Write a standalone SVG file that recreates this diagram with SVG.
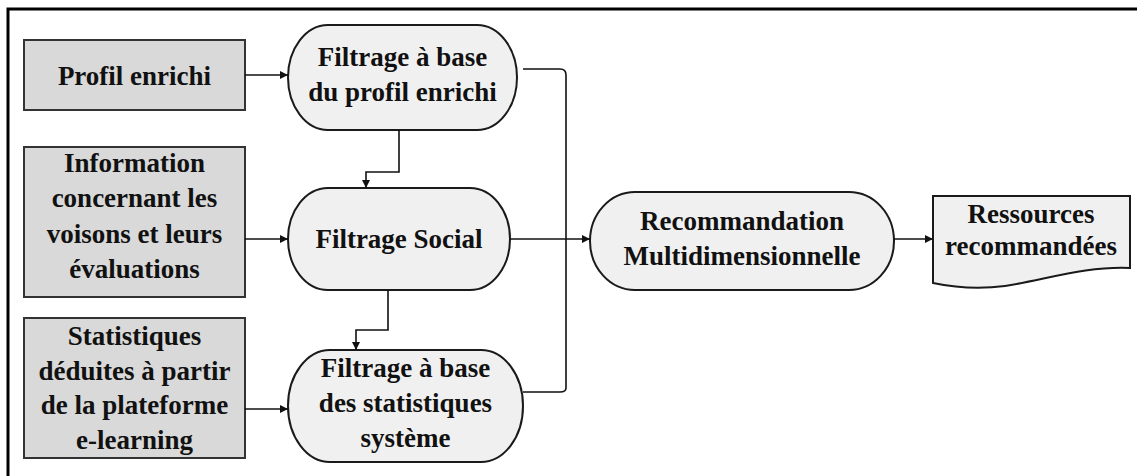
<svg xmlns="http://www.w3.org/2000/svg" width="1137" height="476" viewBox="0 0 1137 476">
<defs>
<marker id="ah" viewBox="0 0 10 10" refX="10" refY="5" markerWidth="8" markerHeight="8" markerUnits="userSpaceOnUse" orient="auto">
<path d="M0,0 L10,5 L0,10 Z" fill="#111"/>
</marker>
<style>
.src{fill:#d9d9d9;stroke:#333;stroke-width:2}
.proc{fill:#f0f0f0;stroke:#1a1a1a;stroke-width:2}
.t{font-family:"Liberation Serif","Times New Roman",serif;font-weight:bold;font-size:27px;fill:#111;text-anchor:middle}
.c{fill:none;stroke:#111;stroke-width:1.6}
</style>
</defs>
<rect width="1137" height="476" fill="#fff"/>
<path d="M8,476 V9 H1137" fill="none" stroke="#000" stroke-width="3"/>

<g id="profil">
<rect class="src" x="24" y="40" width="221" height="70"/>
<text class="t" x="134.5" y="85">Profil enrichi</text>
</g>
<g id="information">
<rect class="src" x="24" y="147" width="221" height="150"/>
<text class="t" x="134.5" y="172">Information</text>
<text class="t" x="134.5" y="207">concernant les</text>
<text class="t" x="134.5" y="243">voisons et leurs</text>
<text class="t" x="134.5" y="278">évaluations</text>
</g>
<g id="statistiques">
<rect class="src" x="24" y="318" width="221" height="140"/>
<text class="t" x="134.5" y="345">Statistiques</text>
<text class="t" x="134.5" y="380">déduites à partir</text>
<text class="t" x="134.5" y="414">de la plateforme</text>
<text class="t" x="134.5" y="449">e-learning</text>
</g>
<g id="filtrage-profil">
<rect class="proc" x="288" y="25" width="229" height="105" rx="40" ry="52.5"/>
<text class="t" x="402.5" y="66">Filtrage à base</text>
<text class="t" x="402.5" y="101">du profil enrichi</text>
</g>
<g id="filtrage-social">
<rect class="proc" x="288" y="188" width="222" height="102" rx="40" ry="51"/>
<text class="t" x="399" y="248">Filtrage Social</text>
</g>
<g id="filtrage-stats">
<rect class="proc" x="288" y="350" width="235" height="112" rx="42" ry="56"/>
<text class="t" x="405.5" y="377">Filtrage à base</text>
<text class="t" x="405.5" y="412">des statistiques</text>
<text class="t" x="405.5" y="447">système</text>
</g>
<g id="recommandation">
<rect class="proc" x="590" y="192" width="304" height="98" rx="45" ry="49"/>
<text class="t" x="742" y="230">Recommandation</text>
<text class="t" x="742" y="265">Multidimensionnelle</text>
</g>
<g id="ressources">
<path class="proc" d="M933,196 H1130 V268 C1085,266 1045,280 1005,286 C975,290 952,287 933,283 Z"/>
<text class="t" x="1031" y="223">Ressources</text>
<text class="t" x="1031" y="255">recommandées</text>
</g>

<g id="connectors">
<path class="c" d="M245,75 H288" marker-end="url(#ah)"/>
<path class="c" d="M245,239 H288" marker-end="url(#ah)"/>
<path class="c" d="M245,409 H288" marker-end="url(#ah)"/>
<path class="c" d="M399,130 V172 H366 V188" marker-end="url(#ah)"/>
<path class="c" d="M388,290 V330 H356 V350" marker-end="url(#ah)"/>
<path class="c" d="M523,69 H560 Q566,69 566,75 V388 Q566,392 560,392 H523"/>
<path class="c" d="M510,239 H590" marker-end="url(#ah)"/>
<path class="c" d="M894,239 H933" marker-end="url(#ah)"/>
</g>
</svg>
